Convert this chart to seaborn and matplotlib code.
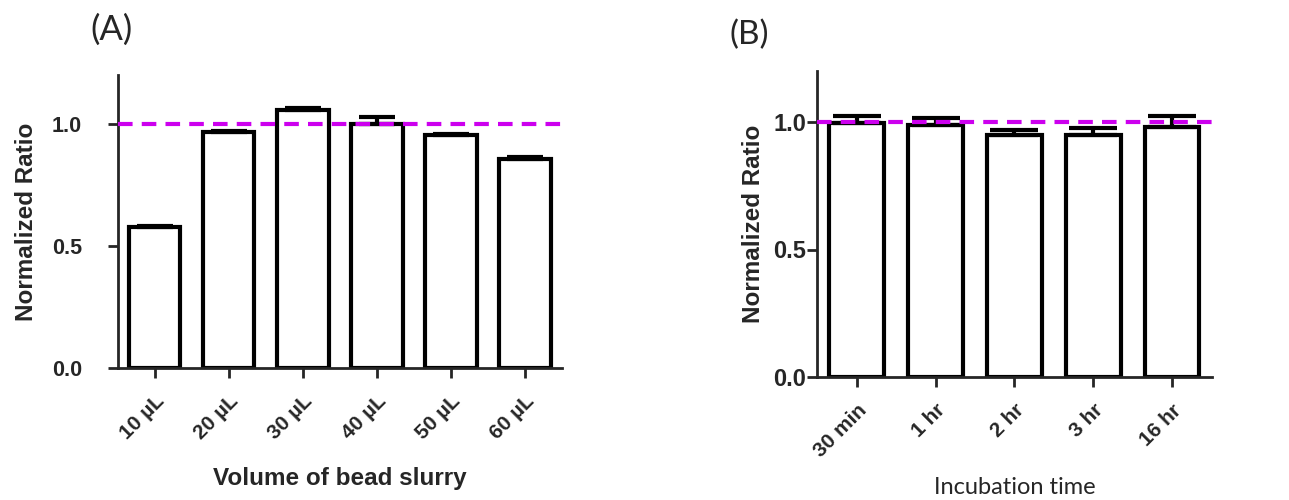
import matplotlib
matplotlib.use("Agg")
import matplotlib.pyplot as plt
import numpy as np
import pandas as pd
import seaborn as sns

# Panel A data
volume_labels = ["10 µL", "20 µL", "30 µL", "40 µL", "50 µL", "60 µL"]
volume_ratio = [0.577, 0.965, 1.055, 1.000, 0.955, 0.855]
volume_err = [0.006, 0.004, 0.010, 0.030, 0.004, 0.010]

# Panel B data
time_labels = ["30 min", "1 hr", "2 hr", "3 hr", "16 hr"]
time_ratio = [0.997, 0.990, 0.950, 0.950, 0.980]
time_err = [0.025, 0.025, 0.017, 0.025, 0.045]

sns.set_style("ticks")
plt.rcParams["font.family"] = ["Liberation Sans", "DejaVu Sans"]

MAGENTA = "#cc00ee"


def draw_panel(ax, labels, values, errs, capsize, ysize, xsize, ypad, ylabelpad):
    df = pd.DataFrame({"label": labels, "value": values})
    sns.barplot(data=df, x="label", y="value", ax=ax, color="white",
                edgecolor="black", linewidth=3, width=0.69, errorbar=None,
                saturation=1)
    # error bars drawn upward only, like the original software
    ax.errorbar(np.arange(len(values)), values,
                yerr=[np.zeros(len(values)), errs], fmt="none",
                ecolor="black", elinewidth=3, capsize=capsize, capthick=3,
                zorder=1)
    ax.axhline(1.0, color=MAGENTA, linewidth=3, dashes=(3.5, 2.2), zorder=5)

    ax.set_xlim(-0.5, len(values) - 0.5)
    ax.set_ylim(0, 1.2)
    ax.set_yticks([0.0, 0.5, 1.0])
    ax.set_yticklabels(["0.0", "0.5", "1.0"], fontsize=ysize, fontweight="bold")
    ax.set_xticks(np.arange(len(values)))
    ax.set_xticklabels(labels, rotation=45, ha="right", rotation_mode="anchor",
                       fontsize=xsize, fontweight="bold")
    ax.set_ylabel("Normalized Ratio", fontsize=17.5, fontweight="bold",
                  labelpad=ylabelpad)
    sns.despine(ax=ax)
    for sp in ["left", "bottom"]:
        ax.spines[sp].set_linewidth(2)
    ax.tick_params(axis="both", width=2, length=7, direction="out")
    ax.tick_params(axis="x", pad=10)
    ax.tick_params(axis="y", pad=ypad)


fig = plt.figure(figsize=(12.89, 5), dpi=100)
ax_a = fig.add_axes([0.0915, 0.264, 0.3445, 0.586])
ax_b = fig.add_axes([0.634, 0.246, 0.306, 0.612])

draw_panel(ax_a, volume_labels, volume_ratio, volume_err, capsize=13,
           ysize=15.5, xsize=15, ypad=19, ylabelpad=10)
draw_panel(ax_b, time_labels, time_ratio, time_err, capsize=17,
           ysize=17, xsize=15, ypad=1, ylabelpad=6)

ax_a.set_xlabel("Volume of bead slurry", fontsize=17.5, fontweight="bold",
                labelpad=17)
ax_b.set_xlabel("Incubation time", fontsize=17, family=["Lato", "DejaVu Sans"],
                labelpad=12)

fig.text(0.070, 0.94, "(A)", fontsize=25, family=["Lato", "DejaVu Sans"],
         va="center", ha="left")
fig.text(0.566, 0.93, "(B)", fontsize=24, family=["Lato", "DejaVu Sans"],
         va="center", ha="left")

fig.savefig("out.png", dpi=100)
plt.close(fig)
